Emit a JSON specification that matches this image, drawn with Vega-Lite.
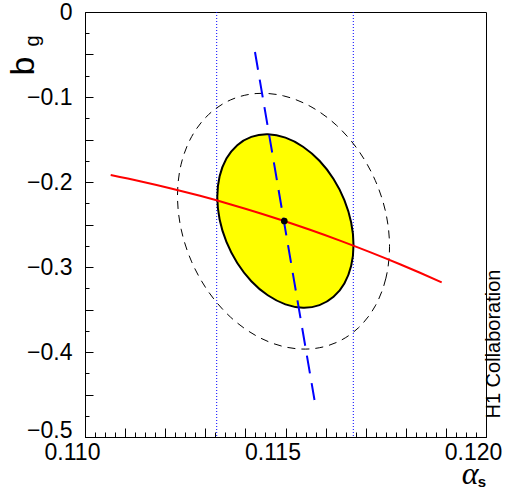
{
  "$schema": "https://vega.github.io/schema/vega-lite/v6.json",
  "width": 401,
  "height": 425,
  "autosize": {"type": "none"},
  "padding": {"left": 85, "top": 12, "right": 20, "bottom": 58},
  "background": "white",
  "config": {
    "view": {"stroke": "black", "strokeWidth": 1},
    "axis": {"grid": false, "domain": false, "labelFont": "Liberation Sans", "titleFont": "Liberation Sans", "tickColor": "black", "tickWidth": 1, "labelColor": "black", "titleColor": "black", "titleFontWeight": "normal", "labelOverlap": false, "labelBound": false, "labelFlush": false}
  },
  "datasets": {
    "vlines": [{"a": 0.113284}, {"a": 0.116691}],
    "red": [
      {"a": 0.110641, "b": -0.19176}, {"a": 0.111372, "b": -0.19902}, {"a": 0.112120, "b": -0.20725},
      {"a": 0.112868, "b": -0.21627}, {"a": 0.113616, "b": -0.22609}, {"a": 0.114364, "b": -0.23669},
      {"a": 0.114970, "b": -0.24588}, {"a": 0.115611, "b": -0.25616}, {"a": 0.116359, "b": -0.26891},
      {"a": 0.117107, "b": -0.28242}, {"a": 0.117855, "b": -0.29671}, {"a": 0.118354, "b": -0.30675},
      {"a": 0.118895, "b": -0.31800}
    ],
    "blue": [{"a": 0.114239, "b": -0.04706}, {"a": 0.115723, "b": -0.45647}],
    "dot": [{"a": 0.114970, "b": -0.24588}],
    "yellow": [
      {"i": 1, "a": 0.116696, "b": -0.27405}, {"i": 2, "a": 0.116638, "b": -0.29846},
      {"i": 3, "a": 0.116468, "b": -0.31929}, {"i": 4, "a": 0.116198, "b": -0.33512},
      {"i": 5, "a": 0.115847, "b": -0.34487}, {"i": 6, "a": 0.115437, "b": -0.34787},
      {"i": 7, "a": 0.114998, "b": -0.34392}, {"i": 8, "a": 0.114558, "b": -0.33328},
      {"i": 9, "a": 0.114148, "b": -0.31671}, {"i": 10, "a": 0.113797, "b": -0.29528},
      {"i": 11, "a": 0.113527, "b": -0.27052}, {"i": 12, "a": 0.113357, "b": -0.24406},
      {"i": 13, "a": 0.113299, "b": -0.21772}, {"i": 14, "a": 0.113357, "b": -0.19331},
      {"i": 15, "a": 0.113527, "b": -0.17247}, {"i": 16, "a": 0.113797, "b": -0.15665},
      {"i": 17, "a": 0.114148, "b": -0.14689}, {"i": 18, "a": 0.114558, "b": -0.14389},
      {"i": 19, "a": 0.114998, "b": -0.14785}, {"i": 20, "a": 0.115437, "b": -0.15848},
      {"i": 21, "a": 0.115847, "b": -0.17506}, {"i": 22, "a": 0.116198, "b": -0.19648},
      {"i": 23, "a": 0.116468, "b": -0.22125}, {"i": 24, "a": 0.116638, "b": -0.24771}
    ],
    "dashed": [
      {"i": 1, "a": 0.117594, "b": -0.27598}, {"i": 2, "a": 0.117504, "b": -0.31312},
      {"i": 3, "a": 0.117239, "b": -0.34572}, {"i": 4, "a": 0.116819, "b": -0.37152},
      {"i": 5, "a": 0.116272, "b": -0.38876}, {"i": 6, "a": 0.115634, "b": -0.39631},
      {"i": 7, "a": 0.114950, "b": -0.39360}, {"i": 8, "a": 0.114266, "b": -0.38085},
      {"i": 9, "a": 0.113628, "b": -0.35891}, {"i": 10, "a": 0.113081, "b": -0.32928},
      {"i": 11, "a": 0.112661, "b": -0.29400}, {"i": 12, "a": 0.112397, "b": -0.25545},
      {"i": 13, "a": 0.112307, "b": -0.21626}, {"i": 14, "a": 0.112397, "b": -0.17912},
      {"i": 15, "a": 0.112661, "b": -0.14652}, {"i": 16, "a": 0.113081, "b": -0.12072},
      {"i": 17, "a": 0.113628, "b": -0.10347}, {"i": 18, "a": 0.114266, "b": -0.09593},
      {"i": 19, "a": 0.114950, "b": -0.09864}, {"i": 20, "a": 0.115634, "b": -0.11139},
      {"i": 21, "a": 0.116272, "b": -0.13333}, {"i": 22, "a": 0.116819, "b": -0.16295},
      {"i": 23, "a": 0.117239, "b": -0.19824}, {"i": 24, "a": 0.117504, "b": -0.23679}
    ]
  },
  "layer": [
    {
      "data": {"name": "vlines"},
      "mark": {"type": "rule", "color": "#0000ff", "strokeWidth": 1, "strokeDash": [1, 2]},
      "encoding": {
        "x": {"field": "a", "type": "quantitative", "scale": {"domain": [0.11, 0.12], "nice": false, "zero": false},
          "axis": {"orient": "bottom", "offset": -5, "values": [0.11, 0.11025, 0.1105, 0.11075, 0.111, 0.11125, 0.1115, 0.11175, 0.112, 0.11225, 0.1125, 0.11275, 0.113, 0.11325, 0.1135, 0.11375, 0.114, 0.11425, 0.1145, 0.11475, 0.115, 0.11525, 0.1155, 0.11575, 0.116, 0.11625, 0.1165, 0.11675, 0.117, 0.11725, 0.1175, 0.11775, 0.118, 0.11825, 0.1185, 0.11875, 0.119, 0.11925, 0.1195, 0.11975, 0.12],
            "tickSize": 5, "labels": false, "domain": false,
            "title": "s", "titleFont": "Liberation Sans", "titleFontWeight": "bold", "titleFontSize": 15,
            "titleX": 396.5, "titleY": 54, "titleAlign": "center", "titleBaseline": "alphabetic"}}
      }
    },
    {
      "data": {"name": "dashed"},
      "mark": {"type": "line", "interpolate": "cardinal-closed", "stroke": "black", "strokeWidth": 1, "strokeDash": [8, 6]},
      "encoding": {
        "x": {"field": "a", "type": "quantitative", "scale": {"domain": [0.11, 0.12], "nice": false, "zero": false},
          "axis": {"orient": "bottom", "offset": -9, "values": [0.11, 0.111, 0.112, 0.113, 0.114, 0.115, 0.116, 0.117, 0.118, 0.119, 0.12],
            "tickSize": 9, "format": ".3f",
            "labelExpr": "round(datum.value*1000) % 5 == 0 ? datum.label : ''",
            "labelFontSize": 23, "labelOffset": -13, "labelPadding": 4.6,
            "title": "α", "titleFont": "Liberation Serif", "titleFontStyle": "italic", "titleFontSize": 32,
            "titleX": 393, "titleY": 55, "titleAlign": "right", "titleBaseline": "alphabetic"}},
        "y": {"field": "b", "type": "quantitative", "scale": {"domain": [-0.5, 0], "nice": false, "zero": false},
          "axis": {"orient": "left", "offset": -4, "values": [0, -0.025, -0.05, -0.075, -0.1, -0.125, -0.15, -0.175, -0.2, -0.225, -0.25, -0.275, -0.3, -0.325, -0.35, -0.375, -0.4, -0.425, -0.45, -0.475, -0.5],
            "tickSize": 4, "labels": false, "domain": false,
            "title": "g", "titleFontSize": 20, "titleAngle": 270, "titleX": -51, "titleY": 34,
            "titleAlign": "left", "titleBaseline": "alphabetic"}},
        "order": {"field": "i", "type": "quantitative"}
      }
    },
    {
      "data": {"name": "yellow"},
      "mark": {"type": "line", "interpolate": "cardinal-closed", "fill": "#ffff00", "stroke": "black", "strokeWidth": 2},
      "encoding": {
        "x": {"field": "a", "type": "quantitative", "axis": null},
        "y": {"field": "b", "type": "quantitative",
          "axis": {"orient": "left", "offset": -8, "values": [0, -0.05, -0.1, -0.15, -0.2, -0.25, -0.3, -0.35, -0.4, -0.45, -0.5],
            "tickSize": 8, "format": ".1f",
            "labelExpr": "abs(round(datum.value*10) - datum.value*10) < 0.000001 ? (datum.value == 0 ? '0' : datum.label) : ''",
            "labelFontSize": 23, "labelPadding": 13,
            "labelBaseline": {"condition": {"test": "datum.value < -0.49", "value": "alphabetic"}, "value": "middle"},
            "title": "b", "titleFontSize": 34, "titleAngle": 270, "titleX": -60, "titleY": 63,
            "titleAlign": "left", "titleBaseline": "alphabetic"}},
        "order": {"field": "i", "type": "quantitative"}
      }
    },
    {
      "data": {"name": "red"},
      "mark": {"type": "line", "color": "#ff0000", "strokeWidth": 2, "interpolate": "monotone"},
      "encoding": {
        "x": {"field": "a", "type": "quantitative", "axis": null},
        "y": {"field": "b", "type": "quantitative",
          "axis": {"orient": "right", "ticks": false, "labels": false, "domain": false,
            "title": "H1 Collaboration", "titleFontSize": 20, "titleAngle": 270, "titleX": 13.3, "titleY": 406,
            "titleAlign": "left", "titleBaseline": "alphabetic"}}
      }
    },
    {
      "data": {"name": "blue"},
      "mark": {"type": "line", "color": "#0000ff", "strokeWidth": 2, "strokeDash": [18, 10]},
      "encoding": {
        "x": {"field": "a", "type": "quantitative", "axis": null},
        "y": {"field": "b", "type": "quantitative", "axis": null}
      }
    },
    {
      "data": {"name": "dot"},
      "mark": {"type": "point", "filled": true, "color": "black", "size": 45, "opacity": 1},
      "encoding": {
        "x": {"field": "a", "type": "quantitative", "axis": null},
        "y": {"field": "b", "type": "quantitative", "axis": null}
      }
    }
  ],
  "resolve": {"axis": {"x": "independent", "y": "independent"}}
}
